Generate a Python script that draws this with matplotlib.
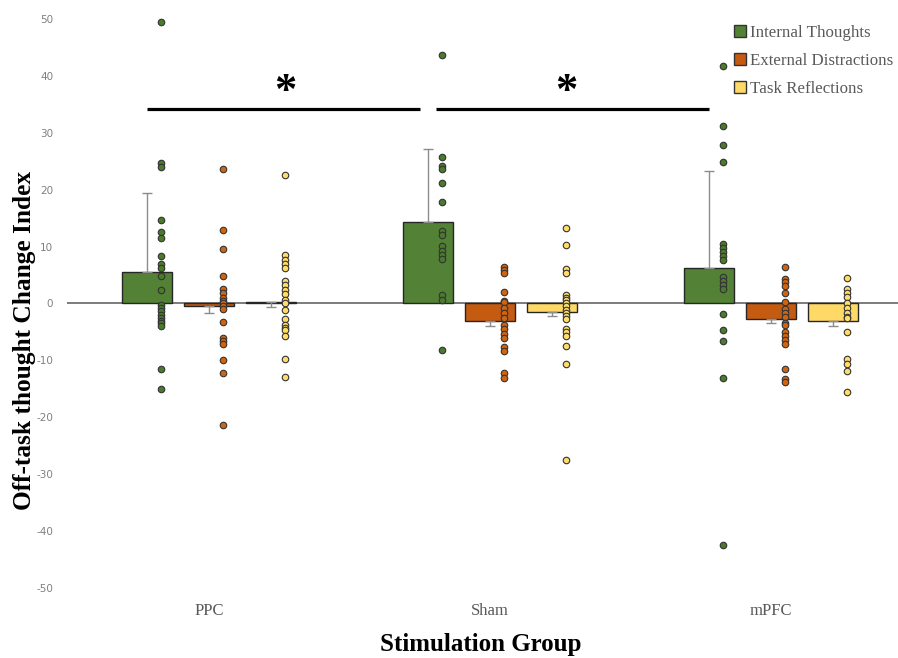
import matplotlib

matplotlib.use("Agg")
import matplotlib.pyplot as plt
import numpy as np
from matplotlib.patches import Patch


GROUPS = ["PPC", "Sham", "mPFC"]
CATEGORIES = ["Internal Thoughts", "External Distractions", "Task Reflections"]
COLORS = {
    "Internal Thoughts": "#538135",
    "External Distractions": "#c55a11",
    "Task Reflections": "#ffd966",
}
DOT_COLORS = {
    "Internal Thoughts": "#4a7a2c",
    "External Distractions": "#d2640f",
    "Task Reflections": "#ffdd66",
}

# bar means per group (PPC, Sham, mPFC)
internal_means = [5.5, 14.3, 6.3]
external_means = [-0.5, -3.1, -2.8]
task_means = [0.3, -1.5, -3.1]

# one-sided error bars (lower, upper)
internal_err = [[0, 0, 0], [14.0, 12.9, 17.0]]
external_err = [[1.1, 0.9, 0.6], [0, 0, 0]]
task_err = [[0.9, 0.7, 0.9], [0, 0, 0]]

# individual participant values
ppc_internal = [49.5, 24.7, 24.0, 14.6, 12.5, 11.5, 8.3, 6.9, 6.2, 4.9, 2.3,
                -0.3, -0.8, -1.4, -2.0, -2.5, -3.0, -3.5, -4.0, -11.5, -15.1]
ppc_external = [23.7, 12.9, 9.6, 4.9, 2.5, 1.9, 1.0, 0.4, 0.1, -0.5, -1.0,
                -3.2, -6.0, -6.6, -7.1, -10.0, -12.2, -21.4]
ppc_task = [22.5, 8.5, 7.7, 6.9, 6.2, 3.9, 3.2, 2.3, 1.6, 0.7, 0.0, -1.2,
            -2.8, -3.7, -4.3, -4.7, -5.7, -9.7, -12.9]
sham_internal = [43.6, 25.7, 24.1, 23.7, 21.2, 17.9, 12.8, 12.1, 10.1, 9.3,
                 8.6, 7.8, 1.5, 0.6, -8.2]
sham_external = [6.4, 5.9, 5.3, 2.0, 0.4, 0.2, -0.8, -1.6, -2.5, -3.7, -4.4,
                 -5.3, -6.0, -7.6, -8.4, -12.2, -13.1]
sham_task = [13.3, 10.2, 6.0, 5.4, 1.5, 1.0, 0.7, 0.0, -0.5, -1.1, -1.6, -2.2,
             -2.7, -4.4, -5.0, -5.7, -7.5, -10.7, -27.5]
mpfc_internal = [41.7, 31.2, 27.8, 24.8, 10.5, 9.8, 9.1, 8.3, 7.6, 4.6, 3.9,
                 3.2, 2.5, -1.9, -4.6, -6.6, -13.1, -42.5]
mpfc_external = [6.4, 4.3, 3.7, 3.0, 1.8, 0.2, -0.9, -1.6, -2.3, -3.4, -3.7,
                 -5.0, -5.7, -6.4, -7.1, -11.5, -13.2, -13.8]
mpfc_task = [4.5, 2.6, 1.9, 1.1, 0.1, -0.8, -1.6, -2.3, -2.5, -5.0, -9.7,
             -10.7, -11.9, -15.6]

means = [internal_means, external_means, task_means]
errors = [internal_err, external_err, task_err]
points = [
    [ppc_internal, sham_internal, mpfc_internal],
    [ppc_external, sham_external, mpfc_external],
    [ppc_task, sham_task, mpfc_task],
]

SERIF = ["Liberation Serif", "DejaVu Serif"]
plt.rcParams["axes.unicode_minus"] = False

fig = plt.figure(figsize=(8.98, 6.58), dpi=100)
ax = fig.add_axes([67 / 898, 70 / 658, 831 / 898, 569 / 658])

x = np.arange(len(GROUPS))
offset = 0.22
width = 0.177
dot_shift = 0.05

ax.axhline(0, color="#595959", linewidth=1.1, zorder=1)

for i, cat in enumerate(CATEGORIES):
    pos = x + (i - 1) * offset
    ax.bar(pos, means[i], width=width, color=COLORS[cat], edgecolor="#262626",
           linewidth=1.0, zorder=2)
    ax.errorbar(pos, means[i], yerr=errors[i], fmt="none", ecolor="#8c8c8c",
                elinewidth=1.0, capsize=3.5, capthick=1.0, zorder=3)
    for g, vals in enumerate(points[i]):
        ax.scatter(np.full(len(vals), pos[g] + dot_shift), vals, s=22,
                   color=DOT_COLORS[cat], edgecolor="#333333", linewidth=0.8,
                   zorder=4, clip_on=False)

# significance bars
sig_y = 34.2
gap = 0.028
left_int = x[0] - offset
mid_int = x[1] - offset
right_int = x[2] - offset
ax.plot([left_int, mid_int - gap], [sig_y, sig_y], color="black", linewidth=2.3,
        solid_capstyle="butt", zorder=3)
ax.plot([mid_int + gap, right_int], [sig_y, sig_y], color="black", linewidth=2.3,
        solid_capstyle="butt", zorder=3)
for a, b in [(left_int, mid_int), (mid_int, right_int)]:
    ax.text((a + b) / 2 - 0.01, 33.6, "*", ha="center", va="bottom",
            fontsize=32, fontweight="bold", family=SERIF)

ax.set_xlim(-0.505, 2.452)
ax.set_ylim(-50, 50)
ax.set_yticks(np.arange(-50, 51, 10))
ax.set_xticks(x)
ax.set_xticklabels(GROUPS, family=SERIF, fontsize=12, color="#595959")
ax.tick_params(axis="y", length=0, pad=10, labelsize=7.5, labelcolor="#808080")
ax.tick_params(axis="x", length=0, pad=11)
for spine in ax.spines.values():
    spine.set_visible(False)

ax.set_ylabel("Off-task thought Change Index", family=SERIF, fontsize=18.3,
              fontweight="bold", ha="center", va="center")
ax.yaxis.set_label_coords(-0.0515, 0.435)
ax.set_xlabel("Stimulation Group", family=SERIF, fontsize=18,
              fontweight="bold", ha="center", va="center")
ax.xaxis.set_label_coords(0.498, -0.1)

handles = [Patch(facecolor=COLORS[c], edgecolor="#333333", linewidth=1.0)
           for c in CATEGORIES]
leg = fig.legend(handles, CATEGORIES, loc="upper left",
                 bbox_to_anchor=(734 / 898, 1 - 25 / 658), frameon=False,
                 prop={"family": SERIF, "size": 12.2}, handlelength=0.7,
                 handleheight=0.7, handletextpad=0.25, labelspacing=0.7,
                 borderaxespad=0, borderpad=0)
for t in leg.get_texts():
    t.set_color("#595959")

fig.savefig("out.png", dpi=100, facecolor="white")
